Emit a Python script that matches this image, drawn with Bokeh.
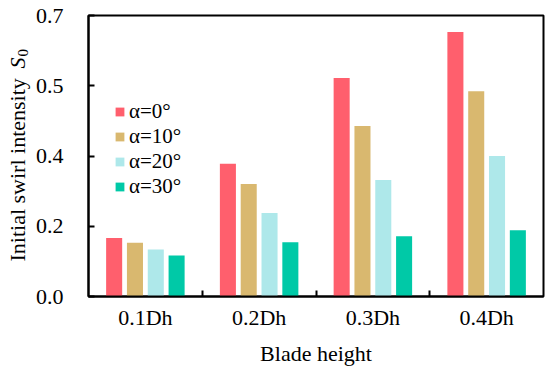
import math
import numpy as np
from bokeh.plotting import figure
from bokeh.layouts import row
from bokeh.models import Range1d, FixedTicker, Label, ColumnDataSource
from bokeh.transform import dodge
from bokeh.embed import file_html
from bokeh.resources import INLINE

categories = ["0.1Dh", "0.2Dh", "0.3Dh", "0.4Dh"]
series_names = ["α=0°", "α=10°", "α=20°", "α=30°"]
alpha_0 = [0.146, 0.331, 0.544, 0.659]
alpha_10 = [0.134, 0.280, 0.425, 0.511]
alpha_20 = [0.117, 0.208, 0.290, 0.350]
alpha_30 = [0.102, 0.135, 0.150, 0.165]
y_tick_values = [0.0, 0.175, 0.35, 0.525, 0.7]
y_tick_labels = ["0.0", "0.2", "0.4", "0.5", "0.7"]
colors = ["#FF5F6D", "#D9B86F", "#AEE8EA", "#00C9A7"]

FONT = "Liberation Serif"
FS = "22px"
LW = 32      # width of the strip that carries the y-axis title
FW, FH = 455, 281
TOP, BOTTOM = 15, 77

centers = list(np.arange(len(categories)) + 0.5)
source = ColumnDataSource(dict(x=centers, a0=alpha_0, a10=alpha_10, a20=alpha_20, a30=alpha_30))

# ---- strip with the rotated y-axis title (pixel coordinates, frame-aligned) ----
pl = figure(frame_width=LW, frame_height=FH, x_range=Range1d(0, LW), y_range=Range1d(0, FH),
            min_border_left=0, min_border_right=0, min_border_top=TOP, min_border_bottom=BOTTOM,
            x_axis_location=None, y_axis_location=None,
            output_backend="svg", toolbar_location=None)
pl.outline_line_color = None
pl.xgrid.visible = False
pl.ygrid.visible = False
pl.border_fill_color = "white"
pl.background_fill_color = "white"
pl.add_layout(Label(x=17, y=35, angle=math.pi / 2,
                    text="Initial swirl intensity ", text_font=FONT, text_font_size=FS,
                    text_color="black", text_baseline="alphabetic", text_align="left"))
pl.add_layout(Label(x=17, y=228, angle=math.pi / 2,
                    text="S", text_font=FONT, text_font_size=FS, text_font_style="italic",
                    text_color="black", text_baseline="alphabetic", text_align="left"))
pl.add_layout(Label(x=22, y=240, angle=math.pi / 2,
                    text="0", text_font=FONT, text_font_size="15px",
                    text_color="black", text_baseline="alphabetic", text_align="left"))

# ---- main chart ----
p = figure(frame_width=FW, frame_height=FH, min_border_left=87 - LW, min_border_right=7,
           min_border_top=TOP, min_border_bottom=BOTTOM,
           x_range=Range1d(0, len(categories)), y_range=Range1d(0, 0.7),
           output_backend="svg", toolbar_location=None)

pitch = 0.183
bar_w = 0.141
cols = ["a0", "a10", "a20", "a30"]
for i, (c, name, col) in enumerate(zip(cols, series_names, colors)):
    off = (i - 1.5) * pitch
    p.vbar(x=dodge("x", off, range=p.x_range), top=c, width=bar_w, source=source,
           fill_color=col, line_color=None, legend_label=name)

p.xgrid.visible = False
p.ygrid.visible = False
p.outline_line_color = "black"
p.outline_line_width = 2
p.background_fill_color = "white"
p.border_fill_color = "white"

# x axis
xa = p.xaxis[0]
xa.ticker = FixedTicker(ticks=centers, minor_ticks=[1, 2, 3])
xa.major_label_overrides = {c: lab for c, lab in zip(centers, categories)}
xa.major_tick_line_color = None
xa.minor_tick_in = 6
xa.minor_tick_out = 0
xa.minor_tick_line_width = 2
xa.minor_tick_line_color = "black"
xa.axis_line_color = "black"
xa.axis_line_width = 2
xa.major_label_text_font = FONT
xa.major_label_text_font_size = FS
xa.major_label_text_color = "black"
xa.major_label_standoff = 2
xa.axis_label = "Blade height"
xa.axis_label_text_font = FONT
xa.axis_label_text_font_size = FS
xa.axis_label_text_font_style = "normal"
xa.axis_label_text_color = "black"
xa.axis_label_standoff = 8

# y axis
ya = p.yaxis[0]
ya.ticker = FixedTicker(ticks=y_tick_values)
ya.major_label_overrides = {v: lab for v, lab in zip(y_tick_values, y_tick_labels)}
ya.major_tick_in = 6
ya.major_tick_out = 0
ya.major_tick_line_width = 2
ya.major_tick_line_color = "black"
ya.minor_tick_line_color = None
ya.axis_line_color = "black"
ya.axis_line_width = 2
ya.major_label_text_font = FONT
ya.major_label_text_font_size = FS
ya.major_label_text_color = "black"
ya.major_label_standoff = 25

# legend
lg = p.legend[0]
lg.location = (26, 97)
lg.padding = 0
lg.margin = 0
lg.spacing = 0
lg.border_line_color = None
lg.background_fill_alpha = 0
lg.glyph_width = 11
lg.glyph_height = 11
lg.label_height = 23
lg.label_standoff = 4
lg.label_text_font = FONT
lg.label_text_font_size = "21px"
lg.label_text_color = "black"

layout = row(pl, p, spacing=0)
open("out.html", "w").write(file_html(layout, INLINE))
